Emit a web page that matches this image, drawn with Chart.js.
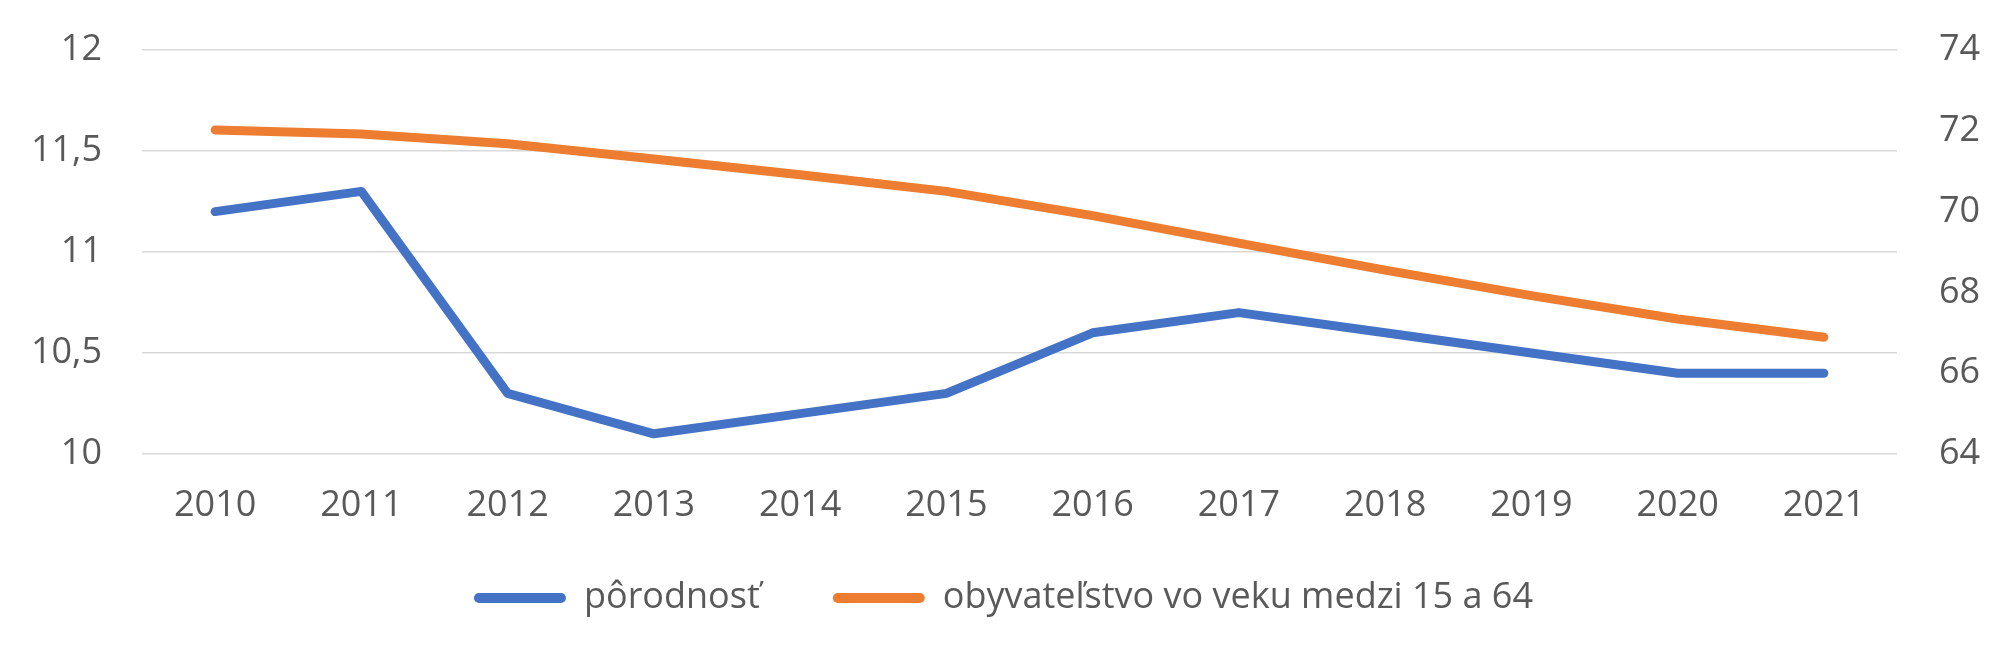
<!DOCTYPE html>
<html>
<head>
<meta charset="utf-8">
<script src="https://cdn.jsdelivr.net/npm/chart.js@4/dist/chart.umd.min.js"></script>
<style>
  html, body { margin: 0; padding: 0; background: #ffffff; }
  #wrap { width: 2007px; height: 665px; }
</style>
</head>
<body>
<div id="wrap"><canvas id="c" width="2007" height="665"></canvas></div>
<script>
const years = ["2010","2011","2012","2013","2014","2015","2016","2017","2018","2019","2020","2021"];
const porodnost = [11.2, 11.3, 10.3, 10.1, 10.2, 10.3, 10.6, 10.7, 10.6, 10.5, 10.4, 10.4];
const obyvatelstvo = [72.02, 71.92, 71.68, 71.3, 70.91, 70.5, 69.9, 69.22, 68.55, 67.92, 67.34, 66.89];
const seriesNames = ["pôrodnosť", "obyvateľstvo vo veku medzi 15 a 64"];

const textColor = '#595959';
const font = { family: "'Open Sans', sans-serif", size: 36 };
const fmt = v => String(v).replace('.', ',');

const legendShift = {
  id: 'legendShift',
  afterLayout(chart) {
    if (chart.legend) { chart.legend.top -= 20; chart.legend.bottom -= 20; }
  }
};

new Chart(document.getElementById('c'), {
  type: 'line',
  data: {
    labels: years,
    datasets: [
      {
        label: seriesNames[0],
        data: porodnost,
        yAxisID: 'y',
        borderColor: '#4472C4',
        backgroundColor: '#4472C4',
        borderWidth: 9,
        pointRadius: 0,
        borderCapStyle: 'round',
        borderJoinStyle: 'round',
        tension: 0
      },
      {
        label: seriesNames[1],
        data: obyvatelstvo,
        yAxisID: 'y1',
        borderColor: '#ED7D31',
        backgroundColor: '#ED7D31',
        borderWidth: 9,
        pointRadius: 0,
        borderCapStyle: 'round',
        borderJoinStyle: 'round',
        tension: 0
      }
    ]
  },
  plugins: [legendShift],
  options: {
    responsive: false,
    animation: false,
    devicePixelRatio: 1,
    layout: { padding: { top: 50, bottom: 19, left: 0, right: 0 } },
    plugins: {
      legend: {
        position: 'bottom',
        labels: {
          font: font,
          color: textColor,
          boxWidth: 92,
          boxHeight: 10,
          useBorderRadius: true,
          borderRadius: 5,
          padding: 73,
          generateLabels: (chart) => Chart.defaults.plugins.legend.labels.generateLabels(chart).map(l => Object.assign(l, { lineWidth: 0, strokeStyle: 'rgba(0,0,0,0)' }))
        }
      },
      tooltip: { enabled: false }
    },
    scales: {
      x: {
        offset: true,
        grid: { display: false, drawTicks: false },
        border: { display: false },
        ticks: { font: font, color: textColor, padding: 30, maxRotation: 0 },
        afterFit: (s) => { s.height = 73; }
      },
      y: {
        position: 'left',
        min: 10, max: 12,
        grid: { color: '#D9D9D9', lineWidth: 1.5, drawTicks: false },
        border: { display: false },
        ticks: { stepSize: 0.5, font: font, color: textColor, padding: 40, callback: fmt },
        afterFit: (s) => { s.width = 142; s.paddingTop = 22; s.paddingBottom = 22; }
      },
      y1: {
        position: 'right',
        min: 64, max: 74,
        grid: { display: false, drawTicks: false },
        border: { display: false },
        ticks: { stepSize: 2, font: font, color: textColor, padding: 42, callback: fmt },
        afterFit: (s) => { s.width = 110; s.paddingTop = 22; s.paddingBottom = 22; }
      }
    }
  }
});
</script>
</body>
</html>
